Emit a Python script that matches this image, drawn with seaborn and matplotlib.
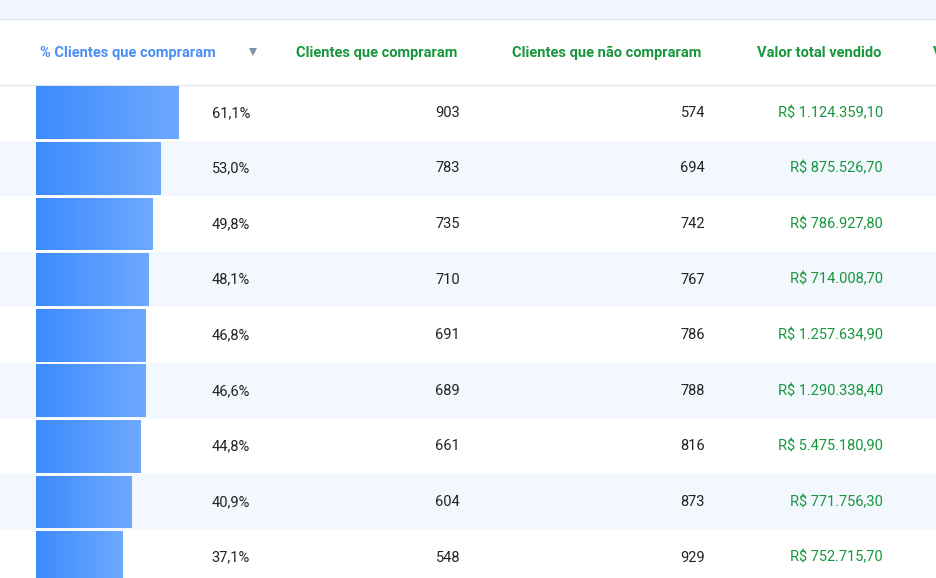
import numpy as np
import pandas as pd
import seaborn as sns
import matplotlib.pyplot as plt
from matplotlib.colors import LinearSegmentedColormap

plt.rcParams['font.family'] = 'Roboto'

headers = ["% Clientes que compraram", "Clientes que compraram",
           "Clientes que não compraram", "Valor total vendido"]
pct = [61.1, 53.0, 49.8, 48.1, 46.8, 46.6, 44.8, 40.9, 37.1]
compraram = [903, 783, 735, 710, 691, 689, 661, 604, 548]
nao_compraram = [574, 694, 742, 767, 786, 788, 816, 873, 929]
valor = ["R$ 1.124.359,10", "R$ 875.526,70", "R$ 786.927,80", "R$ 714.008,70",
         "R$ 1.257.634,90", "R$ 1.290.338,40", "R$ 5.475.180,90", "R$ 771.756,30",
         "R$ 752.715,70"]

W, H = 936, 578
fig = plt.figure(figsize=(W / 100, H / 100), dpi=100)
ax = fig.add_axes([0, 0, 1, 1])
ax.set_xlim(0, W)
ax.set_ylim(H, 0)
ax.axis('off')

top, row_h = 85, 55.6
stripe = '#f3f7fe'
ax.axhspan(0, 19, color='#f2f6fd', lw=0)
ax.axhline(19, color='#e3e8f0', lw=1)
ax.axhline(top, color='#e3e8f0', lw=1)
for i in range(len(pct)):
    if i % 2 == 1:
        ax.axhspan(top + i * row_h, top + (i + 1) * row_h, color=stripe, lw=0)

# headers
hy = 53
ax.text(40, hy, headers[0], color='#4a8ff7', fontsize=10.5, fontweight='bold', va='center')
ax.plot([253], [hy - 1], marker='v', ms=6, color='#7d93a8', mew=0)
ax.text(377, hy, headers[1], color='#16973c', fontsize=10.5, fontweight='bold', va='center', ha='center')
ax.text(607, hy, headers[2], color='#16973c', fontsize=10.5, fontweight='bold', va='center', ha='center')
ax.text(819, hy, headers[3], color='#16973c', fontsize=10.5, fontweight='bold', va='center', ha='center')
ax.text(933, hy, 'V', color='#16973c', fontsize=10.5, fontweight='bold', va='center')

for i in range(len(pct)):
    y = top + (i + 0.5) * row_h
    ax.text(250, y, f"{pct[i]:.1f}%".replace('.', ','), fontsize=10.5, ha='right', va='center', color='#222222')
    ax.text(460, y, str(compraram[i]), fontsize=10.5, ha='right', va='center', color='#222222')
    ax.text(705, y, str(nao_compraram[i]), fontsize=10.5, ha='right', va='center', color='#222222')
    ax.text(883, y, valor[i], fontsize=10.5, ha='right', va='center', color='#16973c')

# bar axes: 2.34 px per percent point
n = len(pct)
bax = fig.add_axes([36 / W, 1 - (top + n * row_h) / H, 234 / W, n * row_h / H])
df = pd.DataFrame({'pct': pct, 'row': [str(i) for i in range(n)]})
sns.barplot(data=df, x='pct', y='row', orient='h', width=0.95, color='#4a8ff7', ax=bax)
bax.axis('off')
bax.patch.set_alpha(0)
cmap = LinearSegmentedColormap.from_list('g', ['#3d8bfd', '#6ea9ff'])
grad = np.linspace(0, 1, 256).reshape(1, -1)
for p in bax.patches:
    x0, y0 = p.get_x(), p.get_y()
    w, h = p.get_width(), p.get_height()
    im = bax.imshow(grad, cmap=cmap, aspect='auto', extent=(x0, x0 + w, y0 + h, y0), zorder=3)
    im.set_clip_path(p)
bax.set_xlim(0, 100)
bax.set_ylim(n - 0.5, -0.5)

fig.savefig('out.png', dpi=100)
